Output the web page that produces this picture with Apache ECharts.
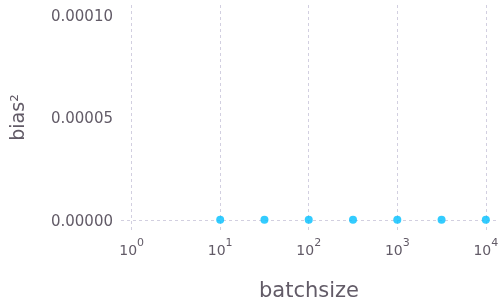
<!DOCTYPE html>
<html><head><meta charset="utf-8">
<script src="https://cdn.jsdelivr.net/npm/echarts@6/dist/echarts.min.js"></script>
<style>html,body{margin:0;padding:0;background:#fff}#c{width:500px;height:305px}</style>
</head><body><div id="c"></div>
<script>
const batchsize = [10, 31.62, 100, 316.2, 1000, 3162, 10000];
const biasSq = [0, 0, 0, 0, 0, 0, 0];
const xTicks = [1, 10, 100, 1000, 10000];
const yTicks = [0, 0.00005, 0.0001];
const xName = 'batchsize';
const yName = 'bias²';

const textColor = '#625b67';
const gridColor = '#d2cfe0';
const chart = echarts.init(document.getElementById('c'), null, {renderer: 'canvas'});
chart.setOption({
  animation: false,
  grid: {left: 121, right: 3, top: 5, bottom: 75, containLabel: false, outerBoundsMode: 'none'},
  xAxis: {
    type: 'log', logBase: 10,
    min: Math.pow(10, -0.12), max: Math.pow(10, 4.126),
    name: xName, nameLocation: 'middle', nameGap: 51,
    nameTextStyle: {fontFamily: 'DejaVu Sans', fontSize: 21, color: textColor},
    axisLine: {show: false}, axisTick: {show: false}, splitLine: {show: false},
    axisLabel: {
      margin: 14, color: textColor, fontFamily: 'DejaVu Sans',
      formatter: function (v) {
        const e = Math.log10(v);
        if (Math.abs(e - Math.round(e)) > 1e-6) return '';
        return '{b|10}{e|' + Math.round(e) + '}';
      },
      rich: {
        b: {fontSize: 14, fontFamily: 'DejaVu Sans', color: textColor, verticalAlign: 'bottom', lineHeight: 14},
        e: {fontSize: 11, fontFamily: 'DejaVu Sans', color: textColor, verticalAlign: 'bottom', lineHeight: 11, padding: [0, 0, 9, 0]}
      }
    }
  },
  yAxis: {
    type: 'value', min: -0.000005, max: 0.000105, splitNumber: 2,
    name: yName, nameLocation: 'middle', nameGap: 92, nameRotate: 90,
    nameTextStyle: {fontFamily: 'DejaVu Sans', fontSize: 19, color: textColor},
    axisLine: {show: false}, axisTick: {show: false}, splitLine: {show: false},
    axisLabel: {
      margin: 8, color: textColor, fontFamily: 'DejaVu Sans', fontSize: 15,
      formatter: function (v) {
        const k = v / 0.00005;
        if (Math.abs(k - Math.round(k)) > 1e-6) return '';
        return '{a|' + (Math.round(k) * 0.00005).toFixed(5) + '}';
      },
      rich: {
        a: {fontSize: 15, fontFamily: 'DejaVu Sans', color: textColor, lineHeight: 15, padding: [4, 0, 0, 0]}
      }
    }
  },
  series: [
    {
      type: 'line', data: [], silent: true, z: 1,
      markLine: {
        silent: true, symbol: ['none', 'none'], label: {show: false},
        lineStyle: {type: [3, 3], color: gridColor, width: 1},
        emphasis: {disabled: true},
        data: xTicks.map(v => ({xAxis: v})).concat(yTicks.map(v => ({yAxis: v})))
      }
    },
    {
      type: 'scatter', z: 3, zlevel: 1,
      data: batchsize.map((x, i) => [x, biasSq[i]]),
      symbol: 'circle', symbolSize: 8,
      itemStyle: {color: '#00bfff'}
    }
  ]
});
</script></body></html>
